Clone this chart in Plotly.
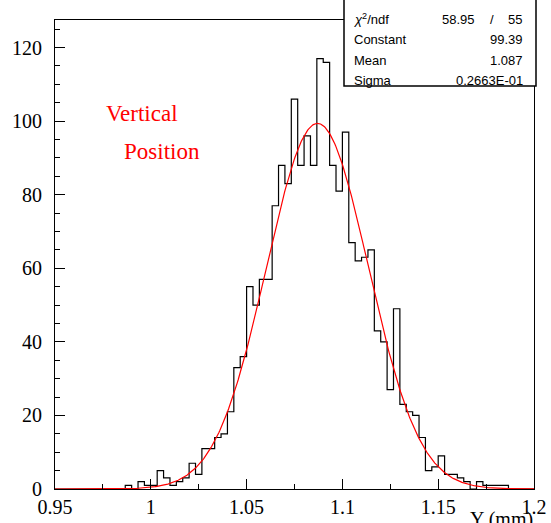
import numpy as np
import plotly.graph_objects as go

# ---- data ----
hist_low = 0.95
hist_high = 1.2
n_bins = 75
counts = [0, 0, 0, 0, 0, 0, 0, 0, 0, 0, 0,
          1, 0, 2, 1, 1, 5, 3, 1, 2, 3, 7, 4,
          11, 11, 14, 15, 21, 33, 36,
          55, 50, 57, 57, 77, 88, 83,
          106, 88, 96, 88, 117, 116, 88,
          81, 97, 67, 62, 63, 65, 43,
          40, 27, 49, 23, 21, 20, 14,
          5, 6, 9, 4, 4, 3, 2,
          0, 2, 1, 1, 1, 1,
          0, 0, 0, 0]
fit_constant = 99.39
fit_mean = 1.087
fit_sigma = 0.02663
stats_labels = ["<i>χ</i><sup>2</sup>/ndf", "Constant", "Mean", "Sigma"]
stats_values = ["", "99.39", "1.087", "0.2663E-01"]
chi2_text = "58.95"
ndf_text = "55"
x_tickvals = [0.95, 1.0, 1.05, 1.1, 1.15, 1.2]
x_ticktext = ["0.95", "1", "1.05", "1.1", "1.15", "1.2"]

# ---- build ----
edges = np.linspace(hist_low, hist_high, n_bins + 1)
step_x = list(edges[:1]) + list(edges)
step_y = [0] + list(counts) + [0]

fx = np.linspace(hist_low, hist_high, 600)
fy = fit_constant * np.exp(-0.5 * ((fx - fit_mean) / fit_sigma) ** 2)

W, H = 551, 523
L, R, T, B = 55, 534, 20, 489


def px(x):
    return (x - L) / (R - L)


def py(y):
    return (B - y) / (B - T)


fig = go.Figure()
fig.add_trace(go.Scatter(x=step_x, y=step_y, mode="lines",
                         line=dict(color="black", width=1.2, shape="hv"),
                         hoverinfo="skip", showlegend=False))
fig.add_trace(go.Scatter(x=fx, y=fy, mode="lines",
                         line=dict(color="red", width=1.2),
                         hoverinfo="skip", showlegend=False))

serif = "Liberation Serif, Times New Roman, serif"
sans = "Liberation Sans, Arial, sans-serif"

fig.update_layout(
    width=W, height=H,
    margin=dict(l=L, r=W - R, t=T, b=H - B, autoexpand=False),
    paper_bgcolor="white", plot_bgcolor="white",
    showlegend=False,
    xaxis=dict(range=[hist_low, hist_high], tickmode="array",
               tickvals=x_tickvals, ticktext=x_ticktext, automargin=False,
               ticks="inside", ticklen=10, tickcolor="black",
               showline=True, linecolor="black", linewidth=1, mirror=True,
               showgrid=False, zeroline=False,
               tickfont=dict(family=serif, size=20, color="black"),
               minor=dict(tickmode="linear", tick0=0.95, dtick=0.025,
                          ticks="inside", ticklen=5, tickcolor="black",
                          showgrid=False)),
    yaxis=dict(range=[0, 127.5], tick0=0, dtick=20, automargin=False,
               ticks="inside", ticklen=10, tickcolor="black",
               showline=True, linecolor="black", linewidth=1, mirror=True,
               showgrid=False, zeroline=False, ticklabelstandoff=8,
               tickfont=dict(family=serif, size=20, color="black"),
               minor=dict(tick0=0, dtick=5, ticks="inside", ticklen=5,
                          tickcolor="black", showgrid=False)),
)

# stats box
fig.add_shape(type="rect", xref="paper", yref="paper",
              x0=px(344), x1=px(536), y0=py(86), y1=py(-2),
              fillcolor="white", line=dict(color="black", width=1.5), layer="above")
row_y = [19, 40, 61, 80]
for lab, val, ry in zip(stats_labels, stats_values, row_y):
    fig.add_annotation(xref="paper", yref="paper", x=px(352), y=py(ry),
                       text=lab, showarrow=False, xanchor="left", yanchor="middle",
                       font=dict(family=sans, size=13, color="black"))
    if val:
        fig.add_annotation(xref="paper", yref="paper", x=px(525), y=py(ry),
                           text=val, showarrow=False, xanchor="right", yanchor="middle",
                           font=dict(family=sans, size=13, color="black"))
fig.add_annotation(xref="paper", yref="paper", x=px(477), y=py(row_y[0]),
                   text=chi2_text, showarrow=False, xanchor="right", yanchor="middle",
                   font=dict(family=sans, size=13, color="black"))
fig.add_annotation(xref="paper", yref="paper", x=px(492), y=py(row_y[0]),
                   text="/", showarrow=False, xanchor="center", yanchor="middle",
                   font=dict(family=sans, size=13, color="black"))
fig.add_annotation(xref="paper", yref="paper", x=px(524), y=py(row_y[0]),
                   text=ndf_text, showarrow=False, xanchor="right", yanchor="middle",
                   font=dict(family=sans, size=13, color="black"))

# red labels
fig.add_annotation(xref="paper", yref="paper", x=px(142), y=py(113),
                   text="Vertical", showarrow=False, xanchor="center", yanchor="middle",
                   font=dict(family=serif, size=23, color="red"))
fig.add_annotation(xref="paper", yref="paper", x=px(162), y=py(151),
                   text="Position", showarrow=False, xanchor="center", yanchor="middle",
                   font=dict(family=serif, size=23, color="red"))

# x-axis title
fig.add_annotation(xref="paper", yref="paper", x=px(535), y=py(519),
                   text="Y (mm)", showarrow=False, xanchor="right", yanchor="middle",
                   font=dict(family=serif, size=20, color="black"))

fig.write_html("out.html", config={"displayModeBar": False},
               post_script="document.body.style.margin='0';document.body.style.overflow='hidden';")
